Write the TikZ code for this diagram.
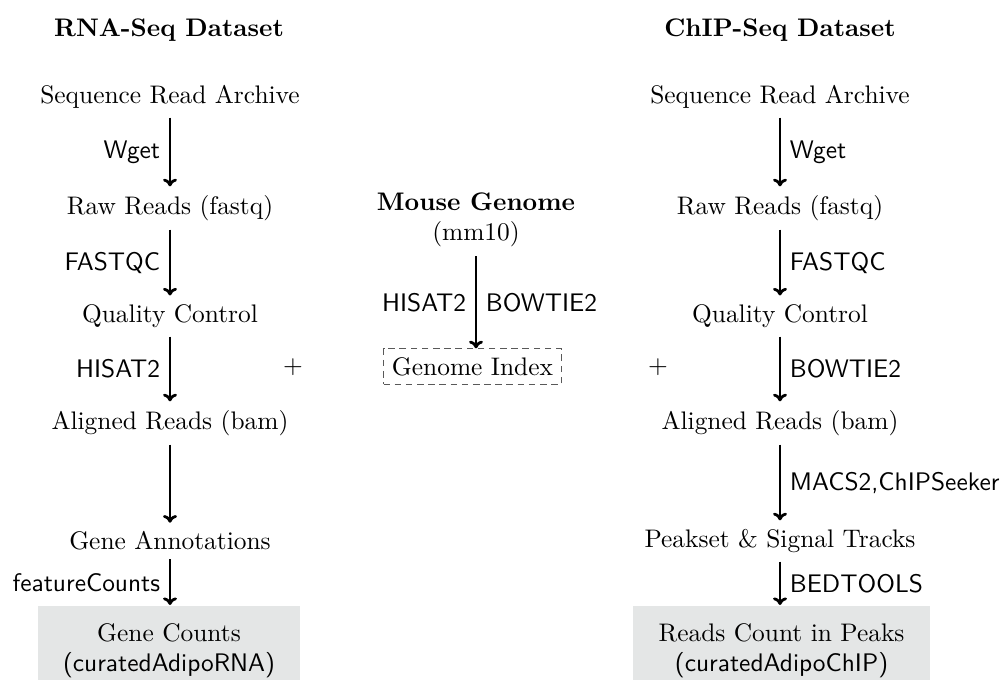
\documentclass[tikz,border=0pt]{standalone}
\usetikzlibrary{arrows.meta}
\definecolor{boxgray}{RGB}{228,230,230}
\begin{document}
\begin{tikzpicture}[x=0.3937pt,y=-0.3937pt,
  arr/.style={-{To[length=3pt,width=5.5pt]}, line width=1.1pt},
  lab/.style={font=\sffamily, midway},
  title/.style={font=\bfseries},
  resbox/.style={fill=boxgray, align=center, inner ysep=7pt, anchor=north},
  idxbox/.style={draw=black!65, dash pattern=on 2.6pt off 1.8pt, line width=0.4pt}]
\useasboundingbox (0,0) rectangle (1003,679);
% titles
\node[title] (t1) at (169,30) {RNA-Seq Dataset};
\node[title] (t2) at (780,30) {ChIP-Seq Dataset};
% left column
\node (l1) at (170,97) {Sequence Read Archive};
\node (l2) at (170,208) {Raw Reads (fastq)};
\node (l3) at (170,316) {Quality Control};
\node (l4) at (170,423) {Aligned Reads (bam)};
\node (l5) at (170,541) {Gene Annotations};
\node[resbox, minimum width=103pt] (l6) at (169,605) {Gene Counts\\\textsf{(curatedAdipoRNA)}};
\draw[arr] (l1) -- node[lab,left]{Wget} (l2);
\draw[arr] (l2) -- node[lab,left]{FASTQC} (l3);
\draw[arr] (l3) -- node[lab,left]{HISAT2} (l4);
\draw[arr] (l4) -- (l5);
\draw[arr] (l5) -- node[lab,left]{featureCounts} (l5 |- l6.north);
% middle column
\node[align=center] (m1) at (476,220) {\textbf{Mouse Genome}\\(mm10)};
\node[idxbox] (m2) at (472.5,366.5) {Genome Index};
\draw[arr] (m1.south) -- node[lab,left]{HISAT2} node[lab,right]{BOWTIE2} (m1.south |- m2.north);
\node (p1) at (293,367) {$+$};
\node (p2) at (658,367) {$+$};
% right column
\node (r1) at (780,97) {Sequence Read Archive};
\node (r2) at (780,208) {Raw Reads (fastq)};
\node (r3) at (780,316) {Quality Control};
\node (r4) at (780,423) {Aligned Reads (bam)};
\node (r5) at (780,541) {Peakset \& Signal Tracks};
\node[resbox, minimum width=117pt] (r6) at (781.5,605) {Reads Count in Peaks\\\textsf{(curatedAdipoChIP)}};
\draw[arr] (r1) -- node[lab,right]{Wget} (r2);
\draw[arr] (r2) -- node[lab,right]{FASTQC} (r3);
\draw[arr] (r3) -- node[lab,right]{BOWTIE2} (r4);
\draw[arr] (r4) -- node[lab,right]{MACS2,ChIPSeeker} (r5);
\draw[arr] (r5) -- node[lab,right]{BEDTOOLS} (r5 |- r6.north);
\end{tikzpicture}
\end{document}
